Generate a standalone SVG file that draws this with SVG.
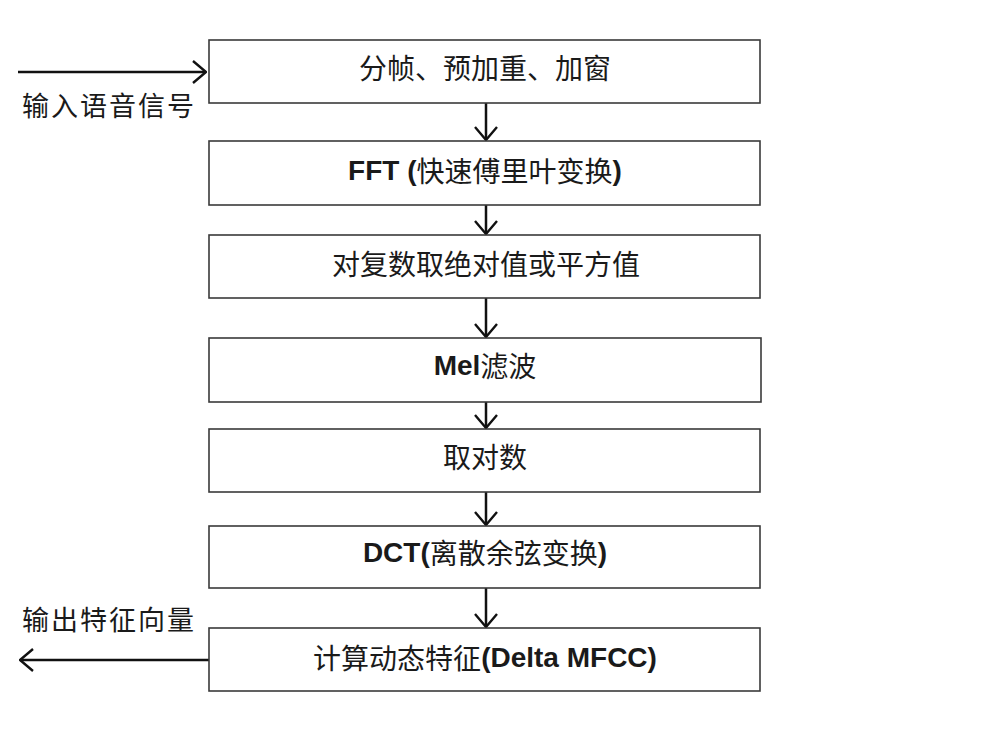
<svg xmlns="http://www.w3.org/2000/svg" width="1001" height="750" viewBox="0 0 1001 750">
<style>
.box{fill:#fff;stroke:#3a3a3a;stroke-width:1.6}
.t{font-family:"Noto Sans CJK SC","Liberation Sans",sans-serif;font-size:28px;fill:#1a1a1a;text-anchor:middle;dominant-baseline:central}
.b{font-family:"Liberation Sans","Noto Sans CJK SC",sans-serif;font-weight:bold}
.lbl{font-family:"Noto Sans CJK SC",sans-serif;font-size:27px;fill:#1a1a1a;letter-spacing:2px}
.c{stroke:#111;stroke-width:2.5;fill:none}
</style>
<defs>
<marker id="ah" viewBox="0 0 15 24" refX="14" refY="12" markerWidth="15" markerHeight="24" markerUnits="userSpaceOnUse" orient="auto">
<path d="M1,1 L14,12 L1,23" fill="none" stroke="#111" stroke-width="2.4"/>
</marker>
</defs>
<rect width="1001" height="750" fill="#fff"/>
<g id="connectors">
<line class="c" x1="18" y1="72" x2="206" y2="72" marker-end="url(#ah)"/>
<line class="c" x1="486" y1="103" x2="486" y2="140" marker-end="url(#ah)"/>
<line class="c" x1="486" y1="205" x2="486" y2="234" marker-end="url(#ah)"/>
<line class="c" x1="486" y1="298" x2="486" y2="337" marker-end="url(#ah)"/>
<line class="c" x1="486" y1="402" x2="486" y2="428" marker-end="url(#ah)"/>
<line class="c" x1="486" y1="492" x2="486" y2="525" marker-end="url(#ah)"/>
<line class="c" x1="486" y1="588" x2="486" y2="627" marker-end="url(#ah)"/>
<line class="c" x1="209" y1="660" x2="20" y2="660" marker-end="url(#ah)"/>
</g>
<g id="input-label"><text class="lbl" x="22" y="116">输入语音信号</text></g>
<g id="output-label"><text class="lbl" x="22" y="630">输出特征向量</text></g>
<g id="n1"><rect class="box" x="209" y="40" width="551" height="63"/><text class="t" x="485" y="67">分帧、预加重、加窗</text></g>
<g id="n2"><rect class="box" x="209" y="141" width="551" height="64"/><text class="t" x="485" y="170"><tspan class="b">FFT (</tspan>快速傅里叶变换<tspan class="b">)</tspan></text></g>
<g id="n3"><rect class="box" x="209" y="235" width="551" height="63"/><text class="t" x="486" y="263">对复数取绝对值或平方值</text></g>
<g id="n4"><rect class="box" x="209" y="338" width="552" height="64"/><text class="t" x="485" y="365"><tspan class="b">Mel</tspan>滤波</text></g>
<g id="n5"><rect class="box" x="209" y="429" width="551" height="63"/><text class="t" x="485" y="456">取对数</text></g>
<g id="n6"><rect class="box" x="209" y="526" width="551" height="62"/><text class="t" x="485" y="552"><tspan class="b">DCT(</tspan>离散余弦变换<tspan class="b">)</tspan></text></g>
<g id="n7"><rect class="box" x="209" y="628" width="551" height="63"/><text class="t" x="485" y="657">计算动态特征<tspan class="b">(Delta MFCC)</tspan></text></g>
</svg>
